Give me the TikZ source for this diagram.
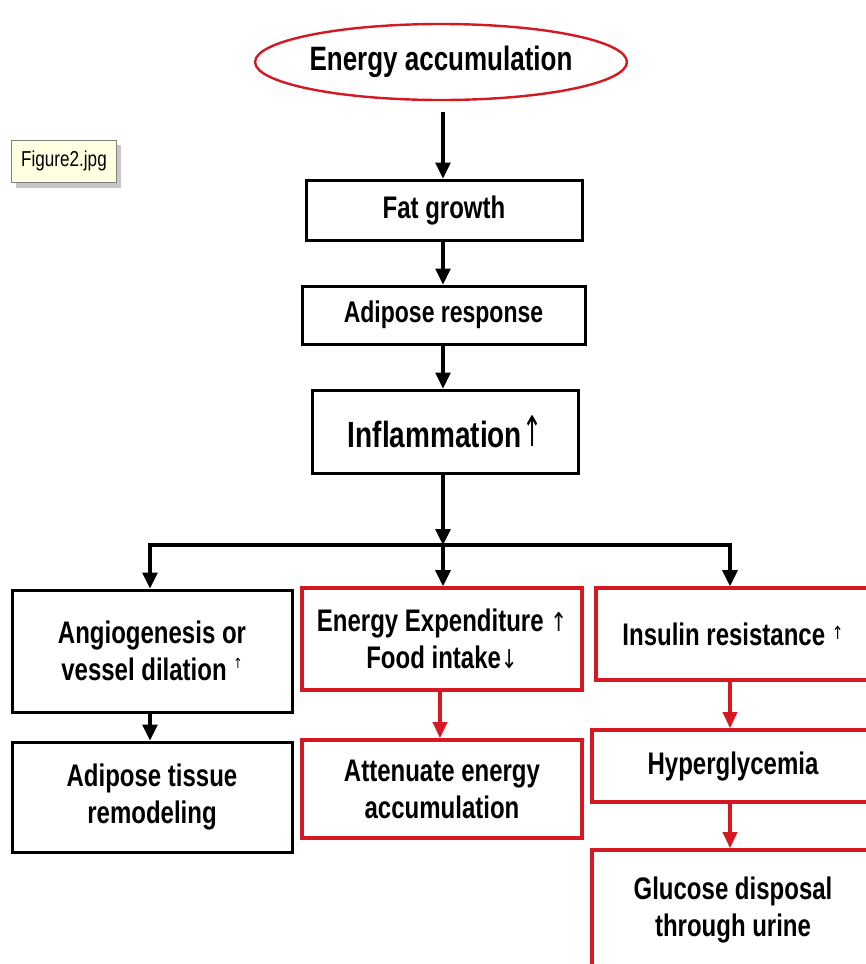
\documentclass[tikz,border=0pt]{standalone}
\usepackage{fontspec}
\setmainfont{Liberation Sans}
\newfontfamily\symfont{DejaVu Sans}
\usetikzlibrary{shapes.geometric,arrows.meta}
\definecolor{myred}{RGB}{214,24,34}
\definecolor{cream}{RGB}{255,255,225}
\newcommand\tl[1]{\scalebox{1}[1.3]{#1}}
\begin{document}
\begin{tikzpicture}[x=1pt,y=-1pt,
  box/.style={draw=black,line width=3pt,align=center,font=\bfseries\fontsize{24}{37}\selectfont,inner sep=0pt},
  rbox/.style={box,draw=myred,line width=3.6pt},
  arr/.style={line width=3.2pt,-{Triangle[length=16pt,width=15pt]}},
  rarr/.style={line width=3.4pt,draw=myred,-{Triangle[length=16pt,width=14pt]},myred},
  link/.style={line width=3.2pt}]
\clip (0,0) rectangle (866,964);
\fill[white] (0,0) rectangle (866,964);
% note label
\fill[gray!45] (16,145) rectangle (121,188);
\node[draw=gray,fill=cream,minimum width=105pt,minimum height=42pt,inner sep=0pt,font=\fontsize{18}{20}\selectfont] (fig) at (64,161) {\scalebox{0.95}[1.2]{Figure2.jpg}};
% top
\node[ellipse,draw=myred,line width=2.4pt,minimum width=308pt,minimum height=76pt,inner sep=0pt,font=\bfseries\fontsize{26}{30}\selectfont] (ea) at (441,62) {\tl{Energy accumulation}};
\node[box,minimum width=276pt,minimum height=60pt,font=\bfseries\fontsize{24}{30}\selectfont] (fat) at (444,210) {\tl{Fat growth}};
\node[box,minimum width=283pt,minimum height=58pt,font=\bfseries\fontsize{23}{30}\selectfont] (adip) at (443.5,315) {\tl{Adipose response}};
\node[box,minimum width=266pt,minimum height=83pt,font=\bfseries\fontsize{28}{30}\selectfont] (infl) at (445,431.5) {\tl{Inflammation}{\symfont\fontseries{m}\fontsize{30}{30}\selectfont\raisebox{1pt}{\scalebox{0.8}[1.4]{↑}}}};
% level 2
\node[box,minimum width=280pt,minimum height=122pt] (ang) at (152,651) {\tl{Angiogenesis or}\\\tl{vessel dilation {\symfont\mdseries\fontsize{11}{11}\selectfont\raisebox{9pt}{↑}}}};
\node[rbox,minimum width=280pt,minimum height=102pt] (ee) at (442,639) {\tl{Energy Expenditure {\symfont\mdseries\fontsize{20}{20}\selectfont↑}}\\\tl{Food intake{\symfont\mdseries\fontsize{20}{20}\selectfont↓}}};
\node[rbox,minimum width=278pt,minimum height=92pt] (ins) at (735,634) {\hspace*{-4pt}\tl{Insulin resistance {\symfont\mdseries\fontsize{14}{14}\selectfont\raisebox{4pt}{↑}}}};
% level 3
\node[box,minimum width=280pt,minimum height=110pt] (rem) at (152,797) {\tl{Adipose tissue}\\\tl{remodeling}};
\node[rbox,minimum width=280pt,minimum height=98pt] (att) at (442,789) {\tl{Attenuate energy}\\\tl{accumulation}};
\node[rbox,minimum width=282pt,minimum height=72pt] (hyp) at (733,766) {\tl{Hyperglycemia}};
\node[rbox,minimum width=282pt,minimum height=120pt] (glu) at (733,910) {\tl{Glucose disposal}\\\tl{through urine}};
% connectors
\coordinate (j) at (443,545);
\coordinate (jl) at (150,545);
\coordinate (jr) at (730,545);
\coordinate (eabot) at (443,112);
\draw[arr] (eabot) -- (eabot |- fat.north);
\draw[arr] (fat.south -| eabot) -- (eabot |- adip.north);
\draw[arr] (adip.south -| eabot) -- (eabot |- infl.north);
\draw[arr] (infl.south -| j) -- (j);
\draw[link] ([xshift=-1.6pt]jl) -- ([xshift=1.6pt]jr);
\draw[arr] (jl) -- (jl |- ang.north);
\draw[arr] (j) -- (j |- ee.north);
\draw[arr] (jr) -- (jr |- ins.north);
\draw[arr] (ang.south -| jl) -- (jl |- rem.north);
\draw[rarr] (ee.south -| 440,0) -- (440,0 |- att.north);
\draw[rarr] (ins.south -| jr) -- (jr |- hyp.north);
\draw[rarr] (hyp.south -| jr) -- (jr |- glu.north);
\end{tikzpicture}
\end{document}
